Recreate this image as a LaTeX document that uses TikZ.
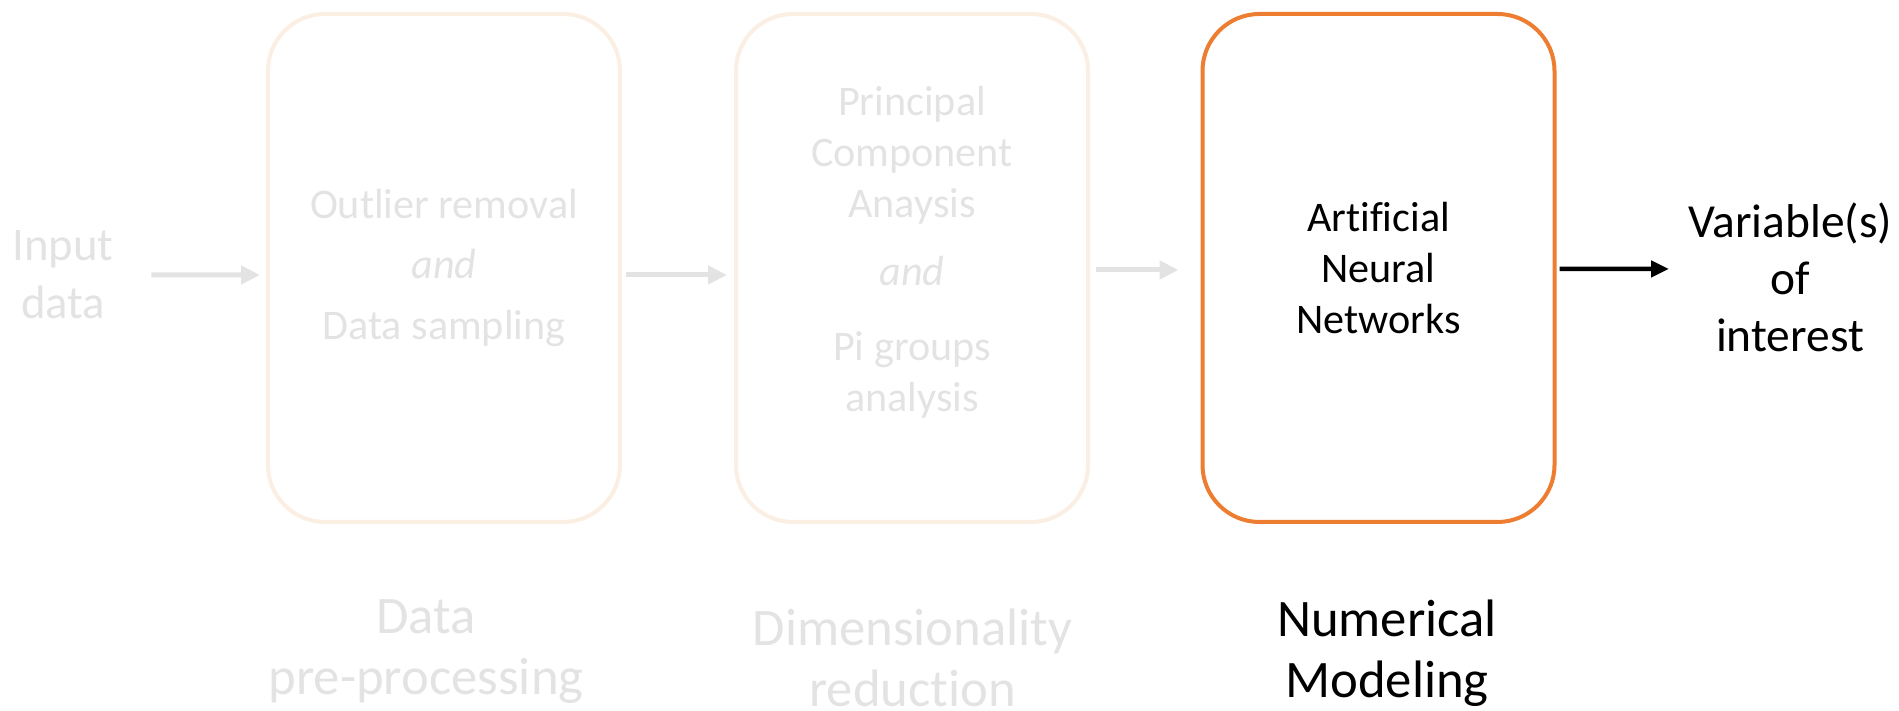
\documentclass[tikz,border=0pt]{standalone}
\usepackage{fontspec}
\setmainfont{Carlito}[Ligatures=NoCommon]
\usepackage{xcolor}
\usetikzlibrary{arrows.meta,positioning}
\definecolor{fadegray}{HTML}{E3E3E3}
\definecolor{fadeorange}{HTML}{FBEEE3}
\definecolor{annorange}{HTML}{ED7D31}
\begin{document}
\begin{tikzpicture}[
  stage/.style={draw=#1, line width=0.04cm, rounded corners=0.57cm, minimum width=3.52cm, minimum height=5.08cm},
  boxtxt/.style={text=#1, align=center, inner sep=0pt, font=\fontsize{12}{14.5}\selectfont},
  steptxt/.style={text=#1, align=center, inner sep=0pt, font=\fontsize{15}{17.3}\selectfont},
  fadearrow/.style={draw=fadegray, line width=0.05cm, -{Triangle[length=0.19cm,width=0.18cm]}},
  outarrow/.style={draw=black, line width=0.045cm, -{Triangle[length=0.18cm,width=0.16cm]}}
]
\useasboundingbox (0,0) rectangle (18.99,7.11);
% boxes
\node[stage=fadeorange] (prep) at (4.44,4.43) {};
\node[stage=fadeorange] (dimred) at (9.12,4.43) {};
\node[stage=annorange] (model) at (13.785,4.43) {};
% box texts
\node[boxtxt=fadegray] (preptxt) at (prep) {Outlier removal\\[2.6pt]\textit{and}\\[3.1pt]Data sampling};
\node[boxtxt=fadegray] (dimredtxt) at ([yshift=0.16cm]dimred) {Principal\\Component\\Anaysis\\[4.8pt]\textit{and}\\[6.8pt]Pi groups\\analysis};
\node[boxtxt=black] (modeltxt) at (model) {Artificial\\Neural\\Networks};
% in and out
\node[text=fadegray, align=center, inner sep=0pt, font=\fontsize{13.3}{16.5}\selectfont] (input) at (0.63,4.36) {Input\\data};
\node[text=black, align=center, inner sep=0pt, font=\fontsize{13.5}{16.2}\selectfont] (output) at (17.90,4.34) {Variable(s)\\of\\interest};
\coordinate (outin) at (16.69,4.42);
% step names
\node[steptxt=fadegray] (preplbl) at (4.26,0.59) {Data\\pre-processing};
\node[steptxt=fadegray] (dimredlbl) at (9.125,0.53) {Dimensionality\\reduction};
\node[steptxt=black] (modellbl) at (13.87,0.58) {Numerical\\Modeling};
% arrows
\draw[fadearrow] ([xshift=0.37cm]input.east) -- ([xshift=-0.06cm,yshift=-0.07cm]prep.west);
\draw[fadearrow] ([xshift=0.04cm,yshift=-0.07cm]prep.east) -- ([xshift=-0.07cm,yshift=-0.07cm]dimred.west);
\draw[fadearrow] ([xshift=0.06cm,yshift=-0.02cm]dimred.east) -- ([xshift=-0.22cm,yshift=-0.02cm]model.west);
\draw[outarrow] ([xshift=0.03cm,yshift=-0.01cm]model.east) -- (outin);
\end{tikzpicture}
\end{document}
